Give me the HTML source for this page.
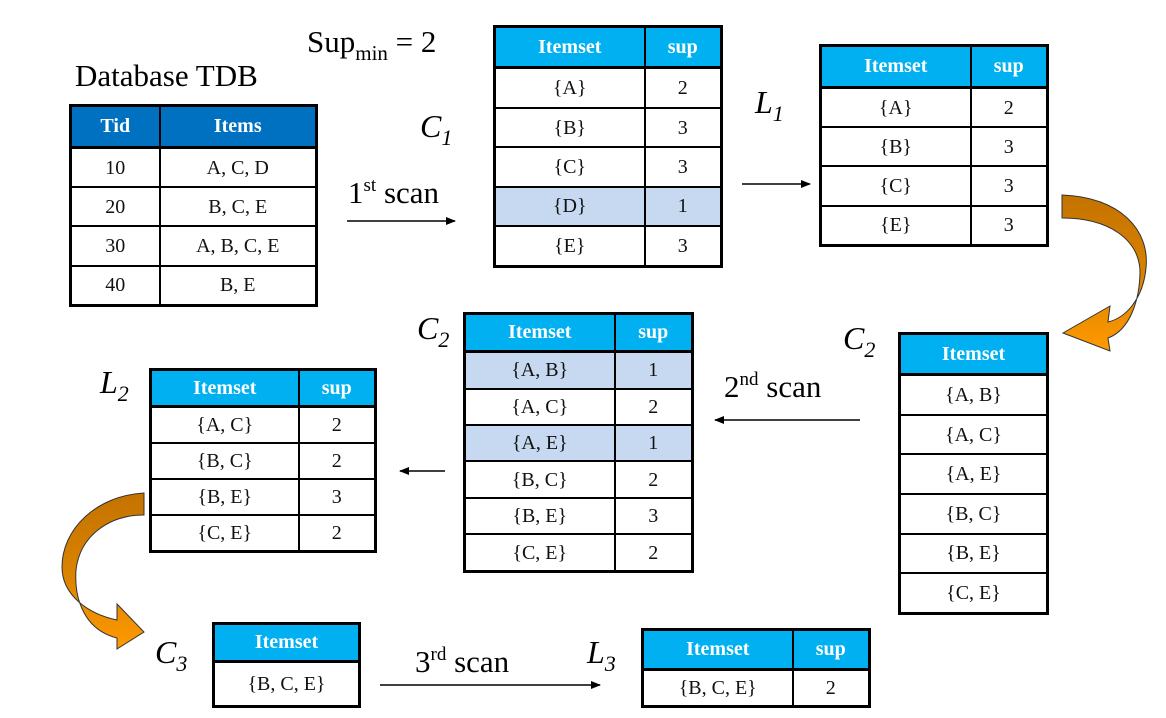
<!DOCTYPE html>
<html><head><meta charset="utf-8"><style>
body{margin:0;width:1166px;height:718px;background:#fff;position:relative;overflow:hidden;font-family:"Liberation Serif",serif;}
table{position:absolute;border-collapse:collapse;border:3px solid #000;table-layout:fixed;}
td{border:2px solid #000;text-align:center;padding:0;font-size:20px;color:#111;line-height:1;}
th{border:2px solid #000;border-bottom:3px solid #000;text-align:center;padding:0;font-size:20px;color:#fff;font-weight:bold;background:#00B0F0;}
.db th{background:#0070C0;}
.hl td{background:#C6D9F0;}
.lab{position:absolute;font-size:31px;white-space:nowrap;line-height:1;}
.it{font-style:italic;font-size:32px;}
.it sub{font-size:22px;vertical-align:-8px;}
sup{font-size:19px;vertical-align:12px;}
</style></head><body>

<div class="lab" style="left:307px;top:26px;">Sup<sub style="font-size:21px;vertical-align:-8px;">min</sub> = 2</div>
<div class="lab" style="left:75px;top:60px;">Database TDB</div>

<table class="db" style="left:69px;top:104px;width:249px;height:203px;">
<colgroup><col style="width:89px"><col></colgroup>
<tr style="height:42px"><th>Tid</th><th>Items</th></tr>
<tr><td>10</td><td>A, C, D</td></tr>
<tr><td>20</td><td>B, C, E</td></tr>
<tr><td>30</td><td>A, B, C, E</td></tr>
<tr><td>40</td><td>B, E</td></tr>
</table>

<div class="lab it" style="left:420px;top:110px;">C<sub>1</sub></div>
<div class="lab" style="left:348px;top:176px;">1<sup>st</sup> scan</div>
<svg style="position:absolute;left:0;top:0" width="1166" height="718">
<defs><marker id="a" markerWidth="10" markerHeight="8" refX="9" refY="4" orient="auto" markerUnits="userSpaceOnUse"><path d="M0,0 L10,4 L0,8 Z" fill="#000"/></marker>
<linearGradient id="g1" x1="0" y1="0" x2="0" y2="1"><stop offset="0" stop-color="#C47300"/><stop offset="0.5" stop-color="#D98200"/><stop offset="1" stop-color="#FF9900"/></linearGradient></defs>
<line x1="347" y1="221" x2="455" y2="221" stroke="#000" stroke-width="1.5" marker-end="url(#a)"/>
<line x1="742" y1="184" x2="810" y2="184" stroke="#000" stroke-width="1.5" marker-end="url(#a)"/>
<line x1="860" y1="420" x2="715" y2="420" stroke="#000" stroke-width="1.5" marker-end="url(#a)"/>
<line x1="445" y1="471" x2="400" y2="471" stroke="#000" stroke-width="1.5" marker-end="url(#a)"/>
<line x1="380" y1="685" x2="600" y2="685" stroke="#000" stroke-width="1.5" marker-end="url(#a)"/>
<path d="M1062,195 C1120,197 1150,230 1146,268 C1143,300 1125,318 1108,322 L1110,306 L1063,333 L1110,351 L1108,338 C1130,330 1140,300 1140,270 C1138,240 1110,218 1062,218 Z" fill="url(#g1)" stroke="#333" stroke-width="1"/>
<path d="M144,493 C95,496 62,530 62,567 C62,595 88,614 117,620 L117,604 L144,632 L117,649 L117,638 C85,630 74,600 76,570 C80,535 110,515 144,515 Z" fill="url(#g1)" stroke="#333" stroke-width="1"/>
</svg>

<table style="left:493px;top:25px;width:230px;height:243px;">
<colgroup><col style="width:150px"><col></colgroup>
<tr style="height:41px"><th>Itemset</th><th>sup</th></tr>
<tr><td>{A}</td><td>2</td></tr>
<tr><td>{B}</td><td>3</td></tr>
<tr><td>{C}</td><td>3</td></tr>
<tr class="hl"><td>{D}</td><td>1</td></tr>
<tr><td>{E}</td><td>3</td></tr>
</table>

<div class="lab it" style="left:755px;top:86px;">L<sub>1</sub></div>
<table style="left:819px;top:44px;width:230px;height:203px;">
<colgroup><col style="width:150px"><col></colgroup>
<tr style="height:42px"><th>Itemset</th><th>sup</th></tr>
<tr><td>{A}</td><td>2</td></tr>
<tr><td>{B}</td><td>3</td></tr>
<tr><td>{C}</td><td>3</td></tr>
<tr><td>{E}</td><td>3</td></tr>
</table>

<div class="lab it" style="left:843px;top:322px;">C<sub>2</sub></div>
<table style="left:898px;top:332px;width:151px;height:283px;">
<tr style="height:41px"><th>Itemset</th></tr>
<tr><td>{A, B}</td></tr>
<tr><td>{A, C}</td></tr>
<tr><td>{A, E}</td></tr>
<tr><td>{B, C}</td></tr>
<tr><td>{B, E}</td></tr>
<tr><td>{C, E}</td></tr>
</table>

<div class="lab" style="left:724px;top:370px;">2<sup>nd</sup> scan</div>

<div class="lab it" style="left:417px;top:312px;">C<sub>2</sub></div>
<table style="left:463px;top:312px;width:231px;height:261px;">
<colgroup><col style="width:150px"><col></colgroup>
<tr style="height:38px"><th>Itemset</th><th>sup</th></tr>
<tr class="hl"><td>{A, B}</td><td>1</td></tr>
<tr><td>{A, C}</td><td>2</td></tr>
<tr class="hl"><td>{A, E}</td><td>1</td></tr>
<tr><td>{B, C}</td><td>2</td></tr>
<tr><td>{B, E}</td><td>3</td></tr>
<tr><td>{C, E}</td><td>2</td></tr>
</table>

<div class="lab it" style="left:100px;top:366px;">L<sub>2</sub></div>
<table style="left:149px;top:368px;width:228px;height:185px;">
<colgroup><col style="width:148px"><col></colgroup>
<tr style="height:37px"><th>Itemset</th><th>sup</th></tr>
<tr><td>{A, C}</td><td>2</td></tr>
<tr><td>{B, C}</td><td>2</td></tr>
<tr><td>{B, E}</td><td>3</td></tr>
<tr><td>{C, E}</td><td>2</td></tr>
</table>

<div class="lab it" style="left:155px;top:636px;">C<sub>3</sub></div>
<table style="left:212px;top:622px;width:149px;height:86px;">
<tr style="height:38px"><th>Itemset</th></tr>
<tr><td>{B, C, E}</td></tr>
</table>

<div class="lab" style="left:415px;top:645px;">3<sup>rd</sup> scan</div>

<div class="lab it" style="left:587px;top:636px;">L<sub>3</sub></div>
<table style="left:641px;top:628px;width:230px;height:80px;">
<colgroup><col style="width:150px"><col></colgroup>
<tr style="height:40px"><th>Itemset</th><th>sup</th></tr>
<tr><td>{B, C, E}</td><td>2</td></tr>
</table>

</body></html>
